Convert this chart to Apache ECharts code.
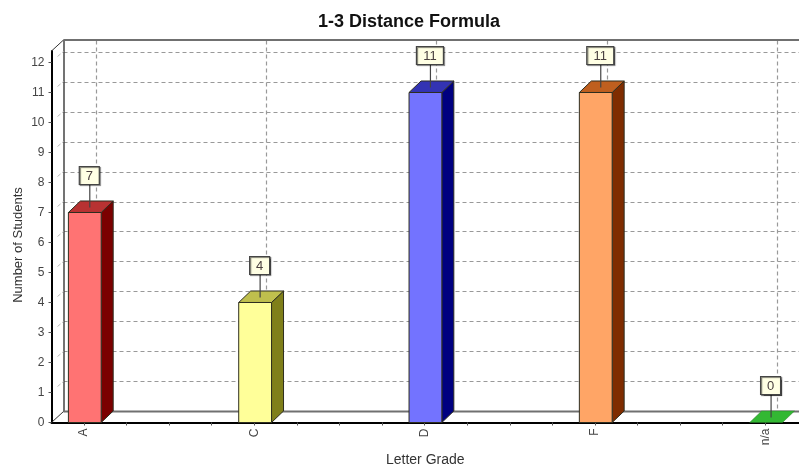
<!DOCTYPE html>
<html>
<head>
<meta charset="utf-8">
<style>html,body{margin:0;padding:0;background:#fff}#c{width:799px;height:468px}</style>
<script src="https://cdn.jsdelivr.net/npm/echarts@6/dist/echarts.min.js"></script>
</head>
<body>
<div id="c"></div>
<script>
const chartTitle = '1-3 Distance Formula';
const xTitle = 'Letter Grade';
const yTitle = 'Number of Students';
const categories = ['A', 'C', 'D', 'F', 'n/a'];
const students = [7, 4, 11, 11, 0];
const yTickValues = [0, 1, 2, 3, 4, 5, 6, 7, 8, 9, 10, 11, 12];
const xMinorTicks = [0, 0.25, 0.5, 0.75, 1, 1.25, 1.5, 1.75, 2, 2.25, 2.5, 2.75, 3, 3.25, 3.5, 3.75, 4];
const faceColors = ['#FF7373', '#FFFF99', '#7373FF', '#FFA566', '#33B833'];
const sideColors = ['#7B0000', '#7F7F1A', '#000080', '#7F2C00', '#1F7F1F'];
const topColors = ['#B83232', '#BFBF4D', '#3333B3', '#BF5F1F', '#33B833'];

const FONT = '"Liberation Sans", Arial, sans-serif';
const DEPTH_X = 12, DEPTH_Y = 11.5, HALF = 16.4, SHIFT = 0.8;
const X_MIN = -0.1908, X_MAX = 4.198, BACK_X_MAX = 4.128, Y_MAX = 12.383;
const OUT = '#2e2e20';
const catIdx = categories.map((_, i) => i);

function renderBar(params, api) {
  const i = api.value(0), v = api.value(1);
  const p = api.coord([i, v]), b = api.coord([i, 0]);
  const l = p[0] + SHIFT - HALF, r = p[0] + SHIFT + HALF, t = p[1], y0 = b[1];
  const dx = DEPTH_X, dy = DEPTH_Y;
  const stroke = { stroke: OUT, lineWidth: 1 };
  const kids = [];
  if (v > 0) {
    kids.push({ type: 'polygon', shape: { points: [[r, t], [r + dx, t - dy], [r + dx, y0 - dy], [r, y0]] }, style: { fill: sideColors[i], ...stroke } });
    kids.push({ type: 'rect', shape: { x: l, y: t, width: r - l, height: y0 - t }, style: { fill: faceColors[i], ...stroke } });
  }
  kids.push({ type: 'polygon', shape: { points: [[l, t], [l + dx, t - dy], [r + dx, t - dy], [r, t]] }, style: { fill: topColors[i], ...(v > 0 ? stroke : { stroke: '#2a7a2a', lineWidth: 0.5 }) } });
  return { type: 'group', children: kids };
}

function renderCallout(params, api) {
  const i = api.value(0), v = api.value(1);
  const p = api.coord([i, v]);
  const txt = String(v);
  const w = txt.length > 1 ? 27 : 20, h = 18;
  const cx = p[0] + SHIFT + 4.5;
  const bottom = p[1] - 28;
  return {
    type: 'group', children: [
      { type: 'line', shape: { x1: cx + 0.5, y1: bottom, x2: cx + 0.5, y2: p[1] - 5 }, style: { stroke: '#444', lineWidth: 1.2 } },
      { type: 'rect', shape: { x: cx - w / 2, y: bottom - h, width: w, height: h },
        style: { fill: '#FFFFE4', stroke: '#444', lineWidth: 1.2, shadowColor: 'rgba(0,0,0,0.55)', shadowOffsetX: 1, shadowOffsetY: 1, shadowBlur: 1 } },
      { type: 'text', style: { text: txt, x: cx, y: bottom - h / 2 + 0.5, align: 'center', verticalAlign: 'middle', font: '13px ' + FONT, fill: '#4a4040' } }
    ]
  };
}

function renderSideDash(params, api) {
  const p = api.coord([X_MIN, api.value(1)]);
  return { type: 'line', shape: { x1: p[0] + 6, y1: p[1] - 6, x2: p[0] + 12, y2: p[1] - 11 }, style: { stroke: '#bdbdbd', lineWidth: 1, lineDash: [4, 2] } };
}

function renderCorner(params, api) {
  const p = api.coord([X_MIN, api.value(1)]);
  const e = api.coord([X_MAX, api.value(1)]);
  return { type: 'group', children: [
    { type: 'line', shape: { x1: p[0], y1: p[1], x2: p[0] + 12, y2: p[1] - 11 }, style: { stroke: '#333', lineWidth: 1 } },
    { type: 'line', shape: { x1: p[0] + 12, y1: p[1] - 11, x2: e[0], y2: e[1] - 11 }, style: { stroke: '#707070', lineWidth: 1.8 } }
  ] };
}

const option = {
  animation: false,
  backgroundColor: '#fff',
  title: { text: chartTitle, left: 404, top: 8, textAlign: 'center', textStyle: { fontFamily: FONT, fontSize: 18, fontWeight: 'bold', color: '#111' } },
  graphic: [{ type: 'text', rotation: Math.PI / 2, x: 18, y: 245, style: { text: yTitle, align: 'center', verticalAlign: 'middle', font: '13px ' + FONT, fill: '#333' } }],
  grid: [
    { left: 51.5, top: 51, width: 747.5, height: 371.5, outerBoundsMode: 'none' },
    { left: 63.5, top: 40.5, width: 735.5, height: 371, outerBoundsMode: 'none' }
  ],
  xAxis: [
    { type: 'value', gridIndex: 0, min: X_MIN, max: X_MAX, name: xTitle, nameLocation: 'middle', nameGap: 26,
      nameTextStyle: { fontFamily: FONT, fontSize: 14, color: '#333' },
      axisLine: { show: true, onZero: false, lineStyle: { color: '#000', width: 2 } },
      axisTick: { show: true, length: 3, customValues: xMinorTicks, lineStyle: { color: '#555' } },
      axisLabel: { show: true, customValues: catIdx, rotate: 90, margin: 6, padding: [0, 0, 0, 2], fontFamily: FONT, fontSize: 12, color: '#444',
        formatter: (v) => categories[Math.round(v)] },
      splitLine: { show: false } },
    { type: 'value', gridIndex: 1, min: X_MIN, max: BACK_X_MAX,
      axisLine: { show: false }, axisLabel: { show: false },
      axisTick: { show: false, customValues: catIdx },
      splitLine: { show: true, lineStyle: { color: '#999', type: [4, 3], width: 1.2 } } }
  ],
  yAxis: [
    { type: 'value', gridIndex: 0, min: 0, max: Y_MAX,
      axisLine: { show: true, onZero: false, lineStyle: { color: '#000', width: 2 } },
      axisTick: { show: true, length: 3, customValues: yTickValues, lineStyle: { color: '#555' } },
      axisLabel: { show: true, customValues: yTickValues, margin: 7, padding: [2, 0, 0, 0], fontFamily: FONT, fontSize: 12, color: '#444' },
      splitLine: { show: false } },
    { type: 'value', gridIndex: 1, min: 0, max: Y_MAX,
      axisLine: { show: true, onZero: false, lineStyle: { color: '#444', width: 1.5 } }, axisLabel: { show: false },
      axisTick: { show: false, customValues: yTickValues.slice(1) },
      splitLine: { show: true, lineStyle: { color: '#999', type: [4, 3], width: 1.2 } } }
  ],
  series: [
    { type: 'custom', xAxisIndex: 0, yAxisIndex: 0, z: 1, silent: true, clip: false, renderItem: renderSideDash,
      data: yTickValues.slice(1).map(v => [X_MIN, v]), encode: { x: 0, y: 1 } },
    { type: 'custom', xAxisIndex: 0, yAxisIndex: 0, z: 1, silent: true, clip: false, renderItem: renderCorner,
      data: [[X_MIN, 0], [X_MIN, Y_MAX]], encode: { x: 0, y: 1 } },
    { type: 'custom', xAxisIndex: 0, yAxisIndex: 0, z: 3, clip: false, renderItem: renderBar,
      data: students.map((v, i) => [i, v]), encode: { x: 0, y: 1 } },
    { type: 'custom', xAxisIndex: 0, yAxisIndex: 0, z: 4, clip: false, renderItem: renderCallout,
      data: students.map((v, i) => [i, v]), encode: { x: 0, y: 1 } }
  ]
};
echarts.init(document.getElementById('c'), null, { renderer: 'canvas' }).setOption(option);
</script>
</body>
</html>
